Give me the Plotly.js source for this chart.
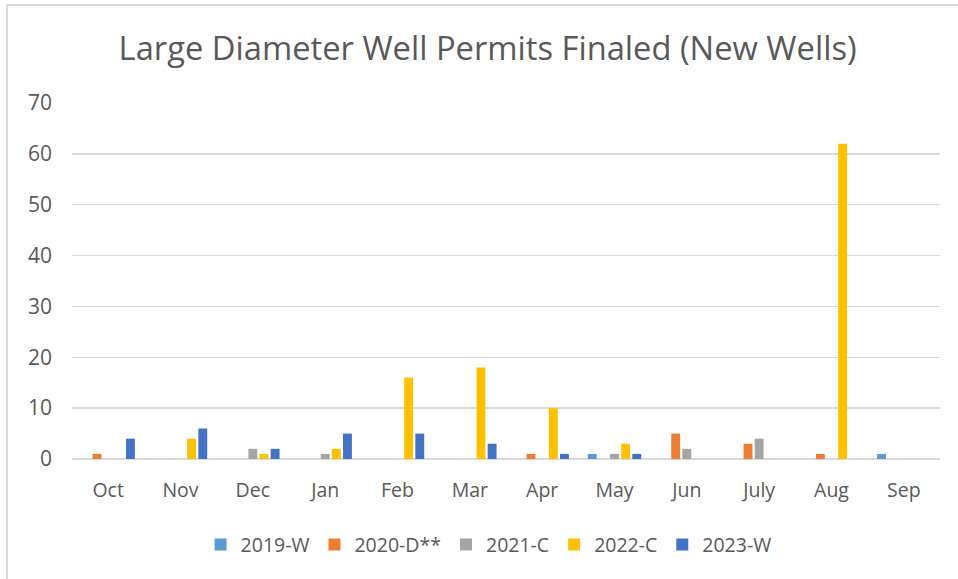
<!DOCTYPE html>
<html>
<head>
<meta charset="utf-8">
<script src="https://cdn.plot.ly/plotly-3.0.1.min.js"></script>
<style>html,body{margin:0;padding:0;background:#fff;}#chart{width:958px;height:579px;}</style>
</head>
<body>
<div id="chart"></div>
<script>
const months = ["Oct","Nov","Dec","Jan","Feb","Mar","Apr","May","Jun","July","Aug","Sep"];
const seriesNames = ["2019-W","2020-D**","2021-C","2022-C","2023-W"];
const colors = ["#5B9BD5","#ED7D31","#A5A5A5","#FFC000","#4472C4"];
const y2019 = [0,0,0,0,0,0,0,1,0,0,0,1];
const y2020 = [1,0,0,0,0,0,1,0,5,3,1,0];
const y2021 = [0,0,2,1,0,0,0,1,2,4,0,0];
const y2022 = [0,4,1,2,16,18,10,3,0,0,62,0];
const y2023 = [4,6,2,5,5,3,1,1,0,0,0,0];
const allY = [y2019,y2020,y2021,y2022,y2023];

const font = "Open Sans, Liberation Sans, sans-serif";
const traces = allY.map((ys,i)=>({
  type:"bar", x:months, y:ys, name:seriesNames[i],
  marker:{color:colors[i]}, hoverinfo:"x+y+name"
}));

const layout = {
  width:958, height:579,
  margin:{l:72, r:18, t:103, b:120},
  paper_bgcolor:"#fff", plot_bgcolor:"#fff",
  title:{text:"Large Diameter Well Permits Finaled (New Wells)", font:{family:font, size:32.7, color:"#595959"}, x:0.509, xref:"container", xanchor:"center", y:0.917, yref:"container", yanchor:"middle"},
  barmode:"group", bargap:0.23, bargroupgap:0.2,
  xaxis:{type:"category", showgrid:false, showline:false, zeroline:false, ticks:"", ticklabelstandoff:17, tickfont:{family:font, size:19.5, color:"#595959"}},
  yaxis:{range:[0,70], dtick:10, showgrid:true, gridcolor:"#D9D9D9", gridwidth:1.5, zeroline:true, zerolinecolor:"#D9D9D9", zerolinewidth:1.5, showline:false, ticks:"", ticklabelstandoff:19, tickfont:{family:font, size:21, color:"#595959"}},
  legend:{orientation:"h", x:0.51, xanchor:"center", xref:"container", y:0.059, yref:"container", yanchor:"middle", font:{family:font, size:19.5, color:"#595959"}, itemwidth:30, traceorder:"normal"},
  showlegend:true,
  shapes:[{type:"rect", xref:"paper", yref:"paper", x0:-65/868, x1:1.1, y0:-0.5, y1:1+98/356, line:{color:"#D9D9D9", width:2}, fillcolor:"rgba(0,0,0,0)", layer:"below"}]
};
Plotly.newPlot("chart", traces, layout, {displayModeBar:false, staticPlot:true});
</script>
</body>
</html>
